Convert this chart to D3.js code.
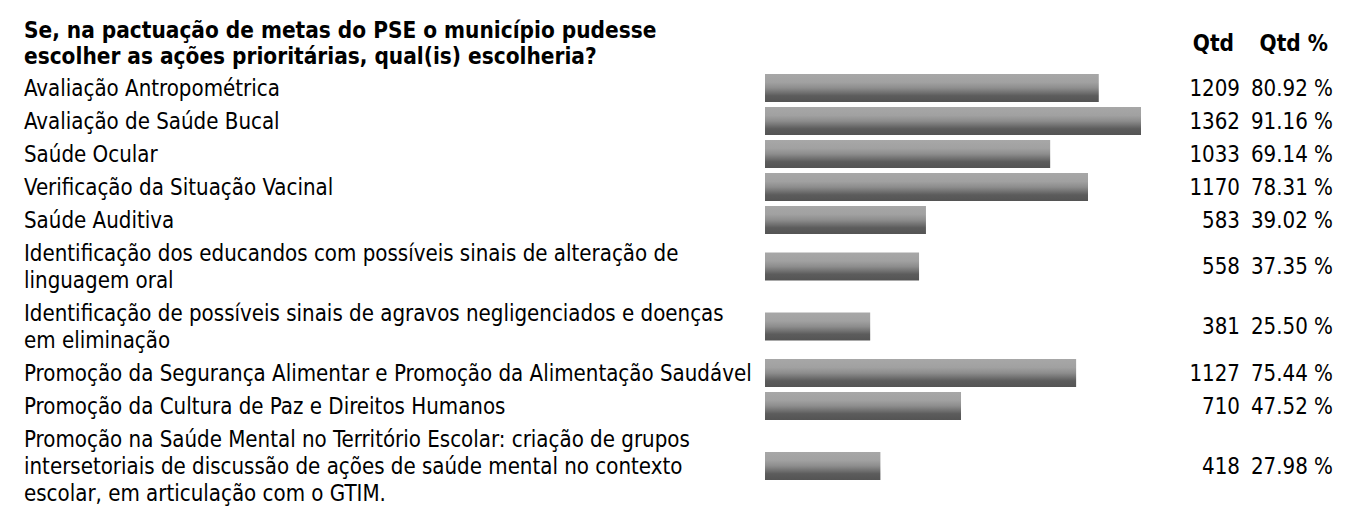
<!DOCTYPE html>
<html>
<head>
<meta charset="utf-8">
<script src="https://cdn.jsdelivr.net/npm/d3@7"></script>
<style>
  body { margin: 0; background: #fff; }
  svg { display: block; }
  text { font-family: "DejaVu Sans Condensed", "DejaVu Sans", sans-serif; fill: #000; }
</style>
</head>
<body>
<svg id="chart"></svg>
<script>
// chart data
var titleLines = ["Se, na pactuação de metas do PSE o município pudesse",
                  "escolher as ações prioritárias, qual(is) escolheria?"];
var categories = [
    ["Avaliação Antropométrica"],
    ["Avaliação de Saúde Bucal"],
    ["Saúde Ocular"],
    ["Verificação da Situação Vacinal"],
    ["Saúde Auditiva"],
    ["Identificação dos educandos com possíveis sinais de alteração de", "linguagem oral"],
    ["Identificação de possíveis sinais de agravos negligenciados e doenças", "em eliminação"],
    ["Promoção da Segurança Alimentar e Promoção da Alimentação Saudável"],
    ["Promoção da Cultura de Paz e Direitos Humanos"],
    ["Promoção na Saúde Mental no Território Escolar: criação de grupos", "intersetoriais de discussão de ações de saúde mental no contexto", "escolar, em articulação com o GTIM."]
];
var counts = [1209, 1362, 1033, 1170, 583, 558, 381, 1127, 710, 418];
var percents = ["80.92 %", "91.16 %", "69.14 %", "78.31 %", "39.02 %", "37.35 %", "25.50 %", "75.44 %", "47.52 %", "27.98 %"];
var headers = ["Qtd", "Qtd %"];

var W = 1356, H = 515;
var svg = d3.select("#chart").attr("width", W).attr("height", H);

var lineH = 27, pad = 6, top0 = 71.5;
var rows = [];
var y = top0;
categories.forEach(function(c, i){
    var h = c.length * lineH + pad;
    rows.push({lines: c, top: y, h: h, count: counts[i], pct: percents[i]});
    y += h;
});

// bar gradient, light on top, dark at bottom
var grad = svg.append("defs").append("linearGradient")
    .attr("id", "barGrad").attr("x1", 0).attr("y1", 0).attr("x2", 0).attr("y2", 1);
[[0, "#a7a7a7"], [0.3, "#a1a1a1"], [0.5, "#8d8d8d"], [0.65, "#737373"], [0.78, "#5c5c5c"], [1, "#545454"]]
    .forEach(function(s){ grad.append("stop").attr("offset", s[0]).attr("stop-color", s[1]); });

// find label font size so the longest line is ~728px wide
var probe = svg.append("text").attr("font-size", 20).text(categories[7][0]);
var labelSize = 20 * 728 / probe.node().getComputedTextLength();
probe.remove();

var probe2 = svg.append("text").attr("font-size", 20).attr("font-weight", "bold").text(titleLines[0]);
var titleSize = 20 * 633 / probe2.node().getComputedTextLength();
probe2.remove();

// title
svg.selectAll(".title").data(titleLines).enter().append("text")
    .attr("class", "title")
    .attr("x", 24).attr("y", function(d, i){ return 30 + i * 26; })
    .attr("dy", "0.35em")
    .attr("font-size", titleSize).attr("font-weight", "bold")
    .text(function(d){ return d; });

// column headers
svg.selectAll(".hdr").data(headers).enter().append("text")
    .attr("class", "hdr")
    .attr("x", function(d, i){ return i == 0 ? 1234 : 1328; })
    .attr("y", 43).attr("dy", "0.35em")
    .attr("text-anchor", "end")
    .attr("font-size", titleSize).attr("font-weight", "bold")
    .text(function(d){ return d; });

var xScale = d3.scaleLinear().domain([0, d3.max(counts)]).range([765, 1141]);

var row = svg.selectAll(".row").data(rows).enter().append("g")
    .attr("class", "row")
    .attr("transform", function(d){ return "translate(0," + d.top + ")"; });

row.each(function(d){
    d3.select(this).selectAll(".lbl").data(d.lines).enter().append("text")
        .attr("class", "lbl")
        .attr("x", 24)
        .attr("y", function(l, i){ return pad / 2 + lineH * i + lineH / 2; })
        .attr("dy", "0.35em")
        .attr("font-size", labelSize)
        .text(function(l){ return l; });
});

row.append("rect")
    .attr("x", xScale(0))
    .attr("y", function(d){ return d.h / 2 - 14; })
    .attr("width", function(d){ return xScale(d.count) - xScale(0); })
    .attr("height", 28)
    .attr("fill", "url(#barGrad)");

row.append("text")
    .attr("x", 1240).attr("y", function(d){ return d.h / 2; })
    .attr("dy", "0.35em").attr("text-anchor", "end")
    .attr("font-size", labelSize)
    .text(function(d){ return d.count; });

row.append("text")
    .attr("x", 1333).attr("y", function(d){ return d.h / 2; })
    .attr("dy", "0.35em").attr("text-anchor", "end")
    .attr("font-size", labelSize)
    .text(function(d){ return d.pct; });
</script>
</body>
</html>
